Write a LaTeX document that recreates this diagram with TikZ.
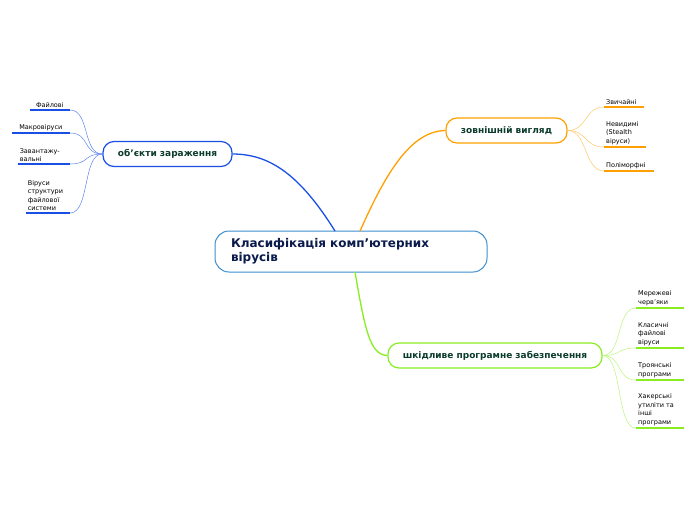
\documentclass[tikz,border=0pt]{standalone}
\usepackage{fontspec}
\setmainfont{DejaVu Sans}
\usetikzlibrary{positioning}
\definecolor{rootblue}{HTML}{3B8FD0}
\definecolor{objblue}{HTML}{1A4FE6}
\definecolor{lookorange}{HTML}{FFA000}
\definecolor{malgreen}{HTML}{88EE22}
\definecolor{navytext}{HTML}{0A1A4A}
\definecolor{topictext}{HTML}{0B3B2B}
\begin{document}
\begin{tikzpicture}[x=1pt,y=-1pt,
  root/.style={draw=rootblue, line width=1pt, rounded corners=14pt, fill=white, font=\fontsize{12}{14}\selectfont\bfseries, text=navytext, align=left, minimum width=272pt, minimum height=41pt, text width=240pt},
  topic/.style={draw=#1, line width=1.2pt, rounded corners=11pt, fill=white, font=\fontsize{9}{11}\selectfont\bfseries, text=topictext, minimum height=25pt, inner xsep=10pt},
  leaf/.style={font=\fontsize{6.5}{8.5}\selectfont, align=left, inner sep=2pt},
  leafline/.style={line width=1.8pt, #1},
  main/.style={line width=1.3pt, #1},
  twig/.style={line width=0.5pt, #1}
]
\useasboundingbox (0,0) rectangle (696,520);

% root
\node[root] (root) at (351,251.5) {Класифікація комп'ютерних\\вірусів};

% об'єкти зараження
\node[topic=objblue, minimum width=129pt] (obj) at (167.5,154) {об'єкти зараження};
\draw[main=objblue] (335,231) .. controls (300,175) and (270,154) .. (obj.east);

\node[leaf, anchor=south east, minimum width=40pt, align=center] (o1) at (70,110) {Файлові};
\node[leaf, anchor=south east, minimum width=58pt, align=center] (o2) at (70,133) {Макровіруси};
\node[leaf, anchor=south east, text width=48pt] (o3) at (70,164) {Завантажу-\\вальні};
\node[leaf, anchor=south east, text width=40pt] (o4) at (70,213) {Віруси\\структури\\файлової\\системи};
\foreach \n in {o1,o2,o3,o4} {
  \draw[leafline=objblue] (\n.south west) -- (\n.south east);
  \draw[twig=objblue!70] (obj.west) .. controls +(-20,0) and +(20,0) .. (\n.south east);
}

% зовнішній вигляд
\node[topic=lookorange, minimum width=121pt] (look) at (506.5,130.5) {зовнішній вигляд};
\draw[main=lookorange] (360,231) .. controls (385,175) and (410,131) .. (look.west);

\node[leaf, anchor=south west, text width=36pt] (l1) at (604,107) {Звичайні};
\node[leaf, anchor=south west, text width=38pt] (l2) at (604,147) {Невидимі\\(Stealth\\віруси)};
\node[leaf, anchor=south west, text width=46pt] (l3) at (604,171) {Поліморфні};
\foreach \n in {l1,l2,l3} {
  \draw[leafline=lookorange] (\n.south west) -- (\n.south east);
  \draw[twig=lookorange!60] (look.east) .. controls +(20,0) and +(-20,0) .. (\n.south west);
}

% шкідливе програмне забезпечення
\node[topic=malgreen, minimum width=214pt] (mal) at (495,355.5) {шкідливе програмне забезпечення};
\draw[main=malgreen] (355,272) .. controls (365,330) and (370,355) .. (mal.west);

\node[leaf, anchor=south west, text width=44pt] (m1) at (636,308) {Мережеві\\черв'яки};
\node[leaf, anchor=south west, text width=44pt] (m2) at (636,348) {Класичні\\файлові\\віруси};
\node[leaf, anchor=south west, text width=44pt] (m3) at (636,380) {Троянські\\програми};
\node[leaf, anchor=south west, text width=44pt] (m4) at (636,428) {Хакерські\\утиліти та\\інші\\програми};
\foreach \n in {m1,m2,m3,m4} {
  \draw[leafline=malgreen] (\n.south west) -- (\n.south east);
  \draw[twig=malgreen!60] (mal.east) .. controls +(20,0) and +(-20,0) .. (\n.south west);
}
\end{tikzpicture}
\end{document}
